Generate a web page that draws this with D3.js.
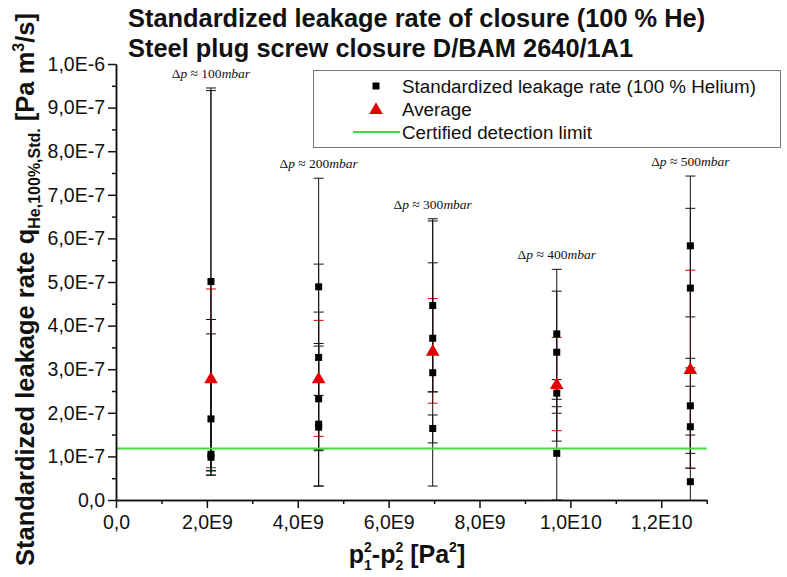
<!DOCTYPE html>
<html><head><meta charset="utf-8">
<script src="https://cdn.jsdelivr.net/npm/d3@7"></script>
<style>
body{margin:0;background:#fff}
svg{display:block}
text{font-family:"Liberation Sans",Arial,sans-serif;fill:#111}
</style>
</head><body>
<svg id="c" width="787" height="577"></svg>
<script>
// ---------- data ----------
const groupX = [2.09e9, 4.46e9, 6.97e9, 9.70e9, 12.64e9];
const deltaP = ["100", "200", "300", "400", "500"];

// individual measurements (Pa m3/s) with their error-bar ends
const measGroup = [0,0,0,0, 1,1,1,1,1, 2,2,2,2, 3,3,3,3, 4,4,4,4,4];
const measValue = [5.01e-7,1.86e-7,1.05e-7,0.98e-7, 4.89e-7,3.27e-7,2.32e-7,1.74e-7,1.67e-7,
                   4.46e-7,3.71e-7,2.92e-7,1.64e-7, 3.81e-7,3.39e-7,2.45e-7,1.07e-7,
                   5.83e-7,4.86e-7,2.16e-7,1.68e-7,0.42e-7];
const measLow   = [0.57e-7,0.67e-7,0.67e-7,0.57e-7, 2.40e-7,1.13e-7,0.32e-7,1.15e-7,0.32e-7,
                   2.48e-7,2.48e-7,0.32e-7,1.31e-7, 2.31e-7,1.99e-7,1.35e-7,0.00e-7,
                   4.20e-7,3.03e-7,1.07e-7,0.73e-7,-0.65e-7];
const measHigh  = [9.45e-7,4.14e-7,3.81e-7,9.39e-7, 7.38e-7,5.41e-7,4.31e-7,3.59e-7,3.53e-7,
                   6.45e-7,6.40e-7,5.44e-7,1.95e-7, 5.29e-7,4.79e-7,2.76e-7,2.14e-7,
                   7.43e-7,6.69e-7,3.25e-7,2.61e-7,1.49e-7];

const avgValue = [2.79e-7, 2.79e-7, 3.42e-7, 2.66e-7, 3.00e-7];
const avgErr   = [2.05e-7, 1.33e-7, 1.20e-7, 1.07e-7, 2.27e-7];

const detectionLimit = 1.18e-7;

const yTicks = [0,1e-7,2e-7,3e-7,4e-7,5e-7,6e-7,7e-7,8e-7,9e-7,1e-6];
const yTickLabels = ["0,0","1,0E-7","2,0E-7","3,0E-7","4,0E-7","5,0E-7","6,0E-7","7,0E-7","8,0E-7","9,0E-7","1,0E-6"];
const xTicks = [0,2e9,4e9,6e9,8e9,1e10,1.2e10];
const xTickLabels = ["0,0","2,0E9","4,0E9","6,0E9","8,0E9","1,0E10","1,2E10"];
const xMinor = [1e9,3e9,5e9,7e9,9e9,1.1e10,1.3e10];
const yMinor = [0.5e-7,1.5e-7,2.5e-7,3.5e-7,4.5e-7,5.5e-7,6.5e-7,7.5e-7,8.5e-7,9.5e-7];

const legendLabels = ["Standardized leakage rate (100 % Helium)", "Average", "Certified detection limit"];

// ---------- chart ----------
const svg = d3.select("#c");
const x = d3.scaleLinear().domain([0, 1.3e10]).range([116, 706.7]);
const y = d3.scaleLinear().domain([0, 1e-6]).range([500, 64]);

const red = "#e00000", green = "#44d844";

svg.append("defs").append("clipPath").attr("id","plot")
  .append("rect").attr("x",116).attr("y",60).attr("width",600).attr("height",440);

const plot = svg.append("g").attr("clip-path","url(#plot)");
const capW = 5;

// average error bars (red), below
avgValue.forEach((v,i)=>{
  const cx = x(groupX[i]);
  const g = plot.append("g").attr("stroke", red).attr("stroke-width",1);
  g.append("line").attr("x1",cx).attr("x2",cx).attr("y1",y(v-avgErr[i])).attr("y2",y(v+avgErr[i]));
  [v-avgErr[i], v+avgErr[i]].forEach(e=>g.append("line").attr("x1",cx-capW).attr("x2",cx+capW).attr("y1",y(e)).attr("y2",y(e)));
});

// measurement error bars (black)
measValue.forEach((v,i)=>{
  const cx = x(groupX[measGroup[i]]);
  const g = plot.append("g").attr("stroke","#111").attr("stroke-width",1);
  g.append("line").attr("x1",cx).attr("x2",cx).attr("y1",y(measLow[i])).attr("y2",y(measHigh[i]));
  [measLow[i], measHigh[i]].forEach(e=>g.append("line").attr("x1",cx-capW).attr("x2",cx+capW).attr("y1",y(e)).attr("y2",y(e)));
});

// detection limit
svg.append("line").attr("x1",x(0)).attr("x2",x(1.3e10)).attr("y1",y(detectionLimit)).attr("y2",y(detectionLimit))
  .attr("stroke",green).attr("stroke-width",2);

// squares
const sq = 7;
plot.selectAll("rect.m").data(measValue).join("rect").attr("class","m")
  .attr("x",(d,i)=>x(groupX[measGroup[i]])-sq/2).attr("y",d=>y(d)-sq/2)
  .attr("width",sq).attr("height",sq).attr("fill","#000");

// triangles
const tri = d3.symbol().type(d3.symbolTriangle).size(80);
plot.selectAll("path.a").data(avgValue).join("path").attr("class","a")
  .attr("d",tri).attr("transform",(d,i)=>`translate(${x(groupX[i])},${y(d)+1})`).attr("fill",red);

// delta p labels
deltaP.forEach((lab,i)=>{
  const top = d3.max(measHigh.filter((h,k)=>measGroup[k]===i));
  const t = svg.append("text").attr("x",x(groupX[i])).attr("y",y(top)-10)
    .attr("text-anchor","middle").style("font-family","'Liberation Serif','Times New Roman',serif").style("font-size","13.5px");
  t.append("tspan").text("\u0394");
  t.append("tspan").style("font-style","italic").text("p");
  t.append("tspan").text(" \u2248 " + lab);
  t.append("tspan").style("font-style","italic").text("mbar");
});

// axes
svg.append("g").attr("transform","translate(116,0)")
  .call(d3.axisLeft(y).tickValues(yTicks).tickFormat((d,i)=>yTickLabels[i]).tickSize(8).tickSizeOuter(0).tickPadding(3));
svg.append("g").attr("transform","translate(116,0)")
  .call(d3.axisLeft(y).tickValues(yMinor).tickFormat("").tickSize(4).tickSizeOuter(0));
svg.append("g").attr("transform","translate(0,500)")
  .call(d3.axisBottom(x).tickValues(xTicks).tickFormat((d,i)=>xTickLabels[i]).tickSize(8).tickSizeOuter(0).tickPadding(7));
svg.append("g").attr("transform","translate(0,500)")
  .call(d3.axisBottom(x).tickValues(xMinor).tickFormat("").tickSize(4).tickSizeOuter(0));
svg.selectAll(".domain, .tick line").attr("stroke","#111").attr("stroke-width",1.5);
svg.selectAll(".tick text").style("font-size","19.5px").style("font-family","'Liberation Sans',Arial,sans-serif").attr("fill","#222");

// titles
svg.append("text").attr("x",128).attr("y",27).style("font-weight","bold").style("font-size","25.4px")
  .text("Standardized leakage rate of closure (100 % He)");
svg.append("text").attr("x",128).attr("y",57).style("font-weight","bold").style("font-size","25.4px")
  .text("Steel plug screw closure D/BAM 2640/1A1");

// y title
const yt = svg.append("text").attr("transform","translate(34,566) rotate(-90)")
  .style("font-weight","bold").style("font-size","25.5px");
yt.append("tspan").text("Standardized leakage rate q");
yt.append("tspan").attr("dy",6).style("font-size","16px").text("He,100%,Std.");
yt.append("tspan").attr("dy",-6).text(" [Pa m");
yt.append("tspan").attr("dy",-10).style("font-size","16px").text("3");
yt.append("tspan").attr("dy",10).text("/s]");

// x title
const xt = svg.append("text").attr("x",407).attr("y",563).attr("text-anchor","middle")
  .style("font-weight","bold").style("font-size","25px");
xt.append("tspan").text("p");
xt.append("tspan").attr("dy",-11).style("font-size","14px").text("2");
xt.append("tspan").attr("dx",-7.8).attr("dy",18).style("font-size","14px").text("1");
xt.append("tspan").attr("dy",-7).text("-p");
xt.append("tspan").attr("dy",-11).style("font-size","14px").text("2");
xt.append("tspan").attr("dx",-7.8).attr("dy",18).style("font-size","14px").text("2");
xt.append("tspan").attr("dy",-7).text(" [Pa");
xt.append("tspan").attr("dy",-11).style("font-size","14px").text("2");
xt.append("tspan").attr("dy",11).text("]");

// legend
const lg = svg.append("g");
lg.append("rect").attr("x",313.5).attr("y",70.5).attr("width",467).attr("height",77)
  .attr("fill","#fff").attr("stroke","#777").attr("stroke-width",1);
const rowsY = [86, 109, 132];
lg.append("rect").attr("x",376-3.5).attr("y",rowsY[0]-3.5).attr("width",7).attr("height",7).attr("fill","#000");
lg.append("path").attr("d",tri).attr("transform",`translate(376,${rowsY[1]+1})`).attr("fill",red);
lg.append("line").attr("x1",353).attr("x2",400).attr("y1",rowsY[2]).attr("y2",rowsY[2]).attr("stroke",green).attr("stroke-width",2);
legendLabels.forEach((t,i)=>lg.append("text").attr("x",402).attr("y",rowsY[i]).attr("dy","0.35em")
  .style("font-size","18.8px").text(t));
</script>
</body></html>
